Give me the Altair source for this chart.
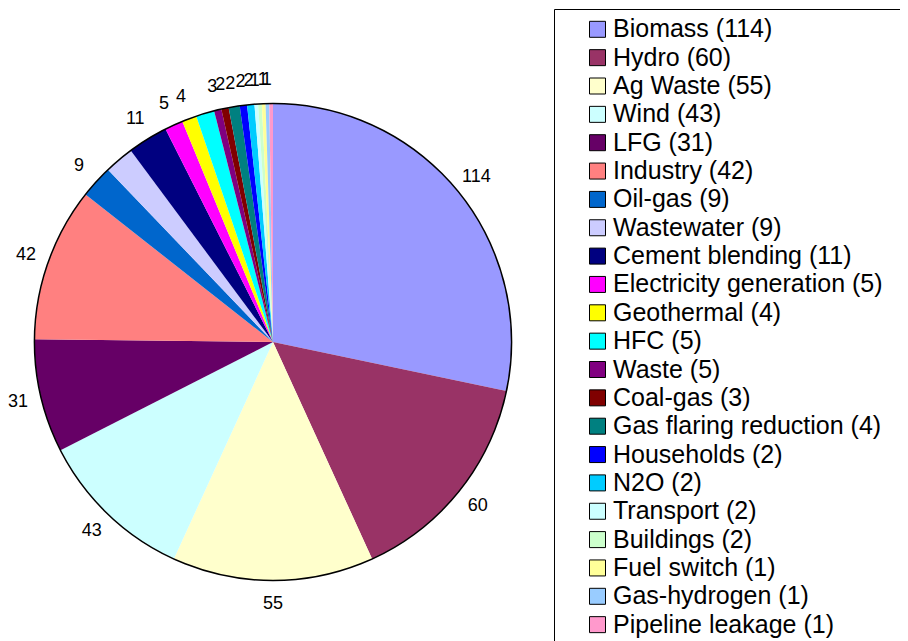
import altair as alt
import pandas as pd

categories = ["Biomass", "Hydro", "Ag Waste", "Wind", "LFG", "Industry", "Oil-gas",
              "Wastewater", "Cement blending", "Electricity generation", "Geothermal",
              "HFC", "Waste", "Coal-gas", "Gas flaring reduction", "Households", "N2O",
              "Transport", "Buildings", "Fuel switch", "Gas-hydrogen", "Pipeline leakage"]
legend_counts = [114, 60, 55, 43, 31, 42, 9, 9, 11, 5, 4, 5, 5, 3, 4, 2, 2, 2, 2, 1, 1, 1]
# slice sizes as drawn in the pie
slice_values = [114, 60, 55, 43, 31, 42, 9, 8, 11, 5, 4, 5, 2, 2, 3, 2, 2, 1, 1, 1, 1, 1]
# data labels as visible around the pie ("" = not visible)
slice_labels = ["114", "60", "55", "43", "31", "42", "9", "", "11", "5", "4", "", "3", "2",
                "2", "2", "2", "1", "", "1", "1", ""]
colors = ["#9999FF", "#993366", "#FFFFCC", "#CCFFFF", "#660066", "#FF8080", "#0066CC",
          "#CCCCFF", "#000080", "#FF00FF", "#FFFF00", "#00FFFF", "#800080", "#800000",
          "#008080", "#0000FF", "#00CCFF", "#CCFFFF", "#CCFFCC", "#FFFF99", "#99CCFF",
          "#FF99CC"]

legend_names = [f"{c} ({n})" for c, n in zip(categories, legend_counts)]
df = pd.DataFrame({
    "idx": list(range(len(categories))),
    "legend": legend_names,
    "value": slice_values,
    "label": slice_labels,
})

CX, CY, R = 265, 334, 238.5
FONT = "Liberation Sans"

color = alt.Color(
    "legend:N",
    scale=alt.Scale(domain=legend_names, range=colors),
    sort=legend_names,
    legend=alt.Legend(
        title=None, orient="none", legendX=577, legendY=8.8,
        symbolType="square", symbolSize=256, symbolStrokeColor="black",
        symbolStrokeWidth=1, symbolOpacity=1, labelFontSize=25, labelFont=FONT,
        labelColor="black", rowPadding=2.35, labelOffset=3, padding=0,
        labelLimit=400,
    ),
)

box = alt.Chart(pd.DataFrame({"v": [1]})).mark_rect(
    fillOpacity=0, stroke="black", strokeWidth=1
).encode(x=alt.value(546.5), x2=alt.value(1000), y=alt.value(1.5), y2=alt.value(1000))

pie = alt.Chart(df).mark_arc(radius=R).encode(
    theta=alt.Theta("value:Q", stack=True),
    color=color,
    order=alt.Order("idx:Q"),
    x=alt.value(CX),
    y=alt.value(CY),
)

outline = alt.Chart(pd.DataFrame({"v": [1]})).mark_arc(
    radius=R, theta=0, theta2=6.2832, fillOpacity=0, stroke="black", strokeWidth=1.5
).encode(x=alt.value(CX), y=alt.value(CY))

text = alt.Chart(df).mark_text(
    radius=262, fontSize=18, font=FONT, color="black"
).encode(
    theta=alt.Theta("value:Q", stack=True),
    text="label:N",
    order=alt.Order("idx:Q"),
    x=alt.value(CX),
    y=alt.value(CY),
)

chart = alt.layer(box, pie, outline, text).properties(
    width=892, height=633, padding=0, autosize="none"
).configure_view(stroke=None)

chart.save("out.html", embed_options={"renderer": "svg", "actions": False})
